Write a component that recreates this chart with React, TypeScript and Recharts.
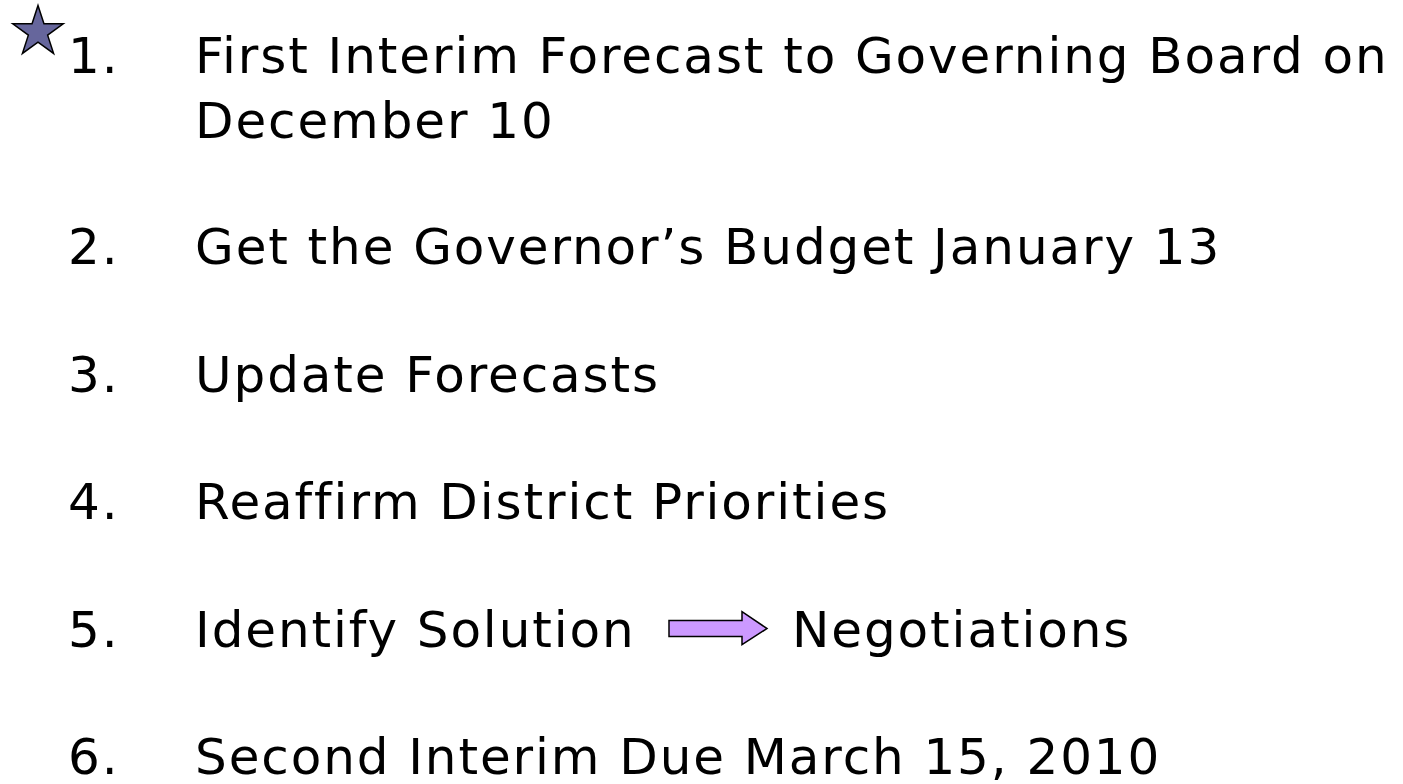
import { ScatterChart, Scatter, XAxis, YAxis, Symbols } from "recharts";

// numbered items of the slide
const numbers = ["1.", "2.", "3.", "4.", "5.", "6."];
const itemLines = [
  ["First Interim Forecast to Governing Board on", "December 10"],
  ["Get the Governor\u2019s Budget January 13"],
  ["Update Forecasts"],
  ["Reaffirm District Priorities"],
  ["Identify Solution"],
  ["Second Interim Due March 15, 2010"],
];
// row position of each item (item 1 wraps onto a second line)
const rowSlots = [0, 1.5, 2.5, 3.5, 4.5, 5.5];
const starred = [true, false, false, false, false, false];
const arrowTargets = ["", "", "", "", "Negotiations", ""];

const data = numbers.map((n, i) => ({
  x: 0,
  y: rowSlots[i],
  num: n,
  lines: itemLines[i],
  star: starred[i],
  arrowTo: arrowTargets[i],
}));

const font = "'DejaVu Sans', Verdana, sans-serif";
const fontSize = 50;
const spacing = 1.9;

const ItemShape = (props: any) => {
  const { cx, cy, payload } = props;
  const tx = cx + 127;
  return (
    <g>
      {payload.star && (
        <Symbols
          type="star"
          size={790}
          cx={cx - 30}
          cy={cy - 41}
          fill="#66669c"
          stroke="#000"
          strokeWidth={1.5}
        />
      )}
      <text x={cx} y={cy} fontFamily={font} fontSize={fontSize} letterSpacing={spacing} fill="#000">
        {payload.num}
      </text>
      {payload.lines.map((ln: string, k: number) => (
        <text
          key={k}
          x={tx}
          y={cy + k * 65}
          fontFamily={font}
          fontSize={fontSize}
          letterSpacing={spacing}
          fill="#000"
        >
          {ln}
        </text>
      ))}
      {payload.arrowTo && (
        <g>
          <path
            d={`M ${cx + 601} ${cy - 26} L ${cx + 674} ${cy - 26} L ${cx + 674} ${cy - 35} L ${cx + 699} ${cy - 18} L ${cx + 674} ${cy - 2} L ${cx + 674} ${cy - 10} L ${cx + 601} ${cy - 10} Z`}
            fill="#cc99ff"
            stroke="#000"
            strokeWidth={1.5}
          />
          <text x={cx + 724} y={cy} fontFamily={font} fontSize={fontSize} letterSpacing={spacing} fill="#000">
            {payload.arrowTo}
          </text>
        </g>
      )}
    </g>
  );
};

export default function App() {
  return (
    <div style={{ position: "absolute", left: 0, top: 0, width: 1403, height: 784, background: "#fff" }}>
      <ScatterChart width={1403} height={784} margin={{ top: 73, right: 0, bottom: 10, left: 68 }}>
        <XAxis type="number" dataKey="x" domain={[0, 1]} hide />
        <YAxis type="number" dataKey="y" domain={[0, 5.5]} reversed hide />
        <Scatter data={data} shape={ItemShape} isAnimationActive={false} />
      </ScatterChart>
    </div>
  );
}
